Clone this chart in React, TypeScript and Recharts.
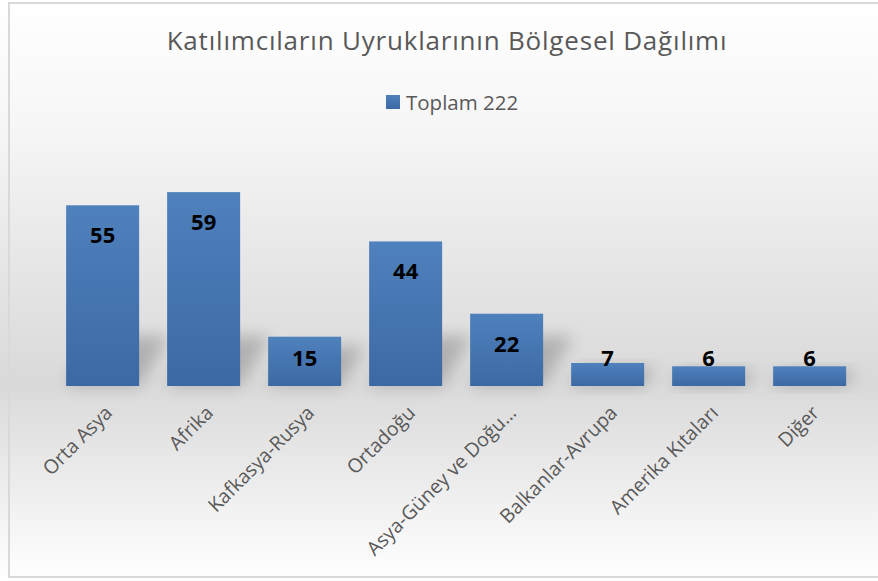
import { BarChart, Bar, XAxis, YAxis, LabelList } from 'recharts'

document.body.style.margin = '0'

const categories = ['Orta Asya', 'Afrika', 'Kafkasya-Rusya', 'Ortadoğu', 'Asya-Güney ve Doğu...', 'Balkanlar-Avrupa', 'Amerika Kıtaları', 'Diğer']
const totals = [55, 59, 15, 44, 22, 7, 6, 6]
const seriesName = 'Toplam 222'
const title = 'Katılımcıların Uyruklarının Bölgesel Dağılımı'

const data = categories.map((name, i) => ({ name, value: totals[i] }))

const FONT = '"Open Sans", sans-serif'
const TEXT = '#595959'

// eslint-disable-next-line @typescript-eslint/no-explicit-any
function BarWithShadow(props: any) {
    const { x, y, width, height } = props
    const base = y + height
    const sh = Math.min(height * 0.8, 50)
    const skew = sh * 0.6
    return (
        <g>
            <polygon
                points={`${x},${base} ${x + width},${base} ${x + width + skew},${base - sh} ${x + skew},${base - sh}`}
                fill="#000" opacity={0.2} filter="url(#barShadow)" />
            <rect x={x} y={y} width={width} height={height} fill="url(#barFill)" />
        </g>
    )
}

// eslint-disable-next-line @typescript-eslint/no-explicit-any
function ValueLabel(props: any) {
    const { x, y, width, height, value } = props
    const cy = Math.min(y + 30, y + height - 28)
    return (
        <text x={x + width / 2} y={cy} dy="0.36em" textAnchor="middle"
            fontFamily={FONT} fontWeight={700} fontSize={22} fill="#000">
            {value}
        </text>
    )
}

// eslint-disable-next-line @typescript-eslint/no-explicit-any
function AngledTick(props: any) {
    const { x, y, payload } = props
    const ax = x + 11
    const ay = y + 20
    return (
        <text x={ax} y={ay} transform={`rotate(-45, ${ax}, ${ay})`} textAnchor="end"
            fontFamily={FONT} fontSize={19.5} fill={TEXT}>
            {payload.value}
        </text>
    )
}

export default function App() {
    return (
        <div style={{
            position: 'relative', width: 878, height: 581, overflow: 'hidden',
            background: 'linear-gradient(to bottom, #ffffff 0%, #f7f7f7 20%, #d9d9d9 66%, #f2f2f2 88%, #ffffff 100%)',
        }}>
            <div style={{
                position: 'absolute', left: 8, top: 2, width: 880, height: 576,
                border: '2px solid #d9d9d9', boxSizing: 'border-box',
            }} />
            <div style={{
                position: 'absolute', left: 8, width: 878, top: 22, textAlign: 'center',
                fontFamily: FONT, fontSize: 26, letterSpacing: 0.8, color: TEXT, whiteSpace: 'nowrap',
            }}>
                {title}
            </div>
            <div style={{
                position: 'absolute', left: 386, top: 88, display: 'flex', alignItems: 'center',
                fontFamily: FONT, fontSize: 20.5, color: TEXT, whiteSpace: 'nowrap',
            }}>
                <span style={{ display: 'inline-block', width: 14, height: 14, marginRight: 6, background: 'linear-gradient(#4f81bd, #3c69a3)' }} />
                {seriesName}
            </div>
            <div style={{ position: 'absolute', left: 0, top: 0 }}>
                <BarChart width={878} height={581} data={data} barCategoryGap="14%"
                    margin={{ top: 156, right: 18, left: 52, bottom: 0 }}>
                    <defs>
                        <linearGradient id="barFill" x1="0" y1="0" x2="0" y2="1">
                            <stop offset="0%" stopColor="#4f81bd" />
                            <stop offset="100%" stopColor="#3c69a3" />
                        </linearGradient>
                        <filter id="barShadow" x="-50%" y="-50%" width="200%" height="200%">
                            <feGaussianBlur stdDeviation="8" />
                        </filter>
                    </defs>
                    <XAxis dataKey="name" interval={0} tickLine={false} axisLine={false}
                        height={195} tick={<AngledTick />} />
                    <YAxis hide domain={[0, 70]} />
                    <Bar dataKey="value" name={seriesName} shape={<BarWithShadow />} isAnimationActive={false}>
                        <LabelList dataKey="value" content={<ValueLabel />} />
                    </Bar>
                </BarChart>
            </div>
        </div>
    )
}
